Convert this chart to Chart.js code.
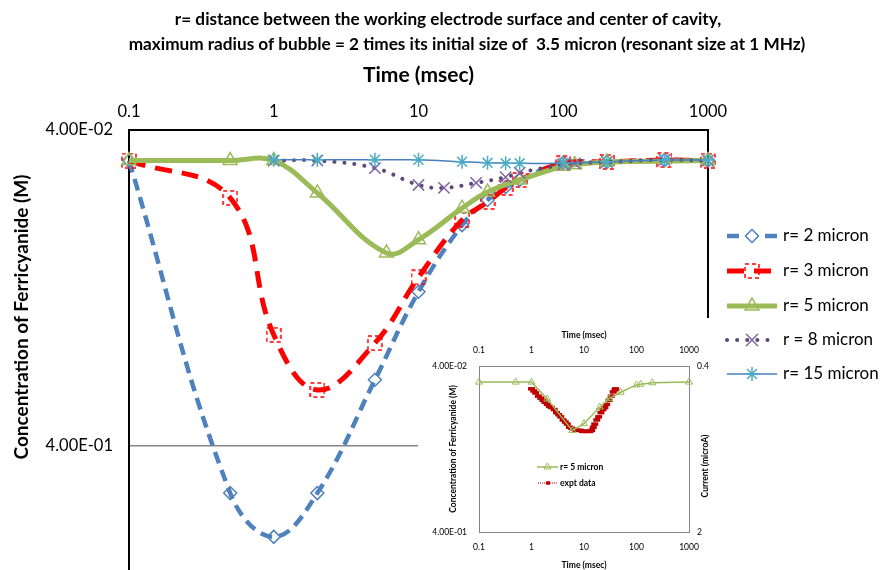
<!DOCTYPE html>
<html>
<head>
<meta charset="utf-8">
<script src="https://cdn.jsdelivr.net/npm/chart.js@4.4.1/dist/chart.umd.min.js"></script>
<style>
  html, body { margin: 0; padding: 0; background: #fff; overflow: hidden; }
  #wrap { position: relative; width: 882px; height: 570px; }
  #main { position: absolute; left: 0; top: 0; }
  #inset { position: absolute; left: 418px; top: 318px; background: #fff; }
</style>
</head>
<body>
<div id="wrap">
  <canvas id="main" width="882" height="570"></canvas>
  <canvas id="inset" width="302" height="252"></canvas>
</div>
<script>
// ---- data ----
const timeTicks = [0.1, 1, 10, 100, 1000];
const timeTickLabels = ['0.1', '1', '10', '100', '1000'];
const concTicks = [0.04, 0.4];
const concTickLabels = ['4.00E-02', '4.00E-01'];
const currentTicks = [0.4, 2];
const currentTickLabels = ['0.4', '2'];

const seriesNames = ['r= 2 micron', 'r= 3 micron', 'r= 5 micron', 'r = 8 micron', 'r= 15 micron'];

const t2 = [0.1, 0.5, 1, 2, 5, 10, 20, 30, 40, 50, 100, 200, 500, 1000];
const conc2 = [0.05, 0.564, 0.776, 0.564, 0.247, 0.130, 0.080, 0.0666, 0.0606, 0.0576, 0.0508, 0.0505, 0.0498, 0.05];

const t3 = [0.1, 0.5, 1, 2, 5, 10, 20, 30, 40, 50, 100, 200, 500, 1000];
const conc3 = [0.05, 0.0656, 0.178, 0.266, 0.189, 0.117, 0.077, 0.0676, 0.061, 0.0576, 0.051, 0.0505, 0.0498, 0.05];

const t5 = [0.1, 0.5, 1, 2, 6, 10, 20, 30, 50, 100, 120, 200, 1000];
const conc5 = [0.05, 0.05, 0.05, 0.0633, 0.098, 0.089, 0.0707, 0.0629, 0.0576, 0.052, 0.0515, 0.0505, 0.05];

const t8 = [1, 2, 5, 10, 15, 25, 40, 50, 100, 120, 200, 500, 1000];
const conc8 = [0.05, 0.05, 0.0528, 0.0597, 0.061, 0.0588, 0.0564, 0.0546, 0.0515, 0.051, 0.0505, 0.0497, 0.05];

const t15 = [1, 2, 5, 10, 20, 30, 40, 50, 100, 200, 500, 1000];
const conc15 = [0.0497, 0.0497, 0.0497, 0.0497, 0.0504, 0.0508, 0.051, 0.051, 0.051, 0.0504, 0.0498, 0.0498];

// experimental current (right axis of the inset)
const tExpt = [1.0, 1.1, 1.2, 1.35, 1.5, 1.65, 1.8, 2.0, 2.2, 2.4, 2.7, 3.0, 3.3, 3.6, 4.0, 4.4, 4.8, 5.3, 5.8, 6.4, 7.0, 7.7, 8.5, 9.3, 10, 11, 12, 13, 14, 15, 16, 17.5, 19, 21, 23, 25, 27, 30, 33, 36, 39, 40];
const currentExpt = [0.62, 0.64, 0.66, 0.69, 0.71, 0.73, 0.75, 0.77, 0.79, 0.80, 0.82, 0.85, 0.87, 0.89, 0.92, 0.94, 0.96, 0.99, 1.00, 1.01, 1.02, 1.02, 1.02, 1.03, 1.03, 1.03, 1.03, 1.03, 1.02, 0.99, 0.96, 0.92, 0.89, 0.85, 0.82, 0.80, 0.77, 0.73, 0.69, 0.65, 0.63, 0.62];

const titleLines = [
  'r= distance between the working electrode surface and center of cavity,',
  'maximum radius of bubble = 2 times its initial size of  3.5 micron (resonant size at 1 MHz)'
];

// ---- helpers ----
const FONT = 'Lato, "Open Sans", sans-serif';
Chart.defaults.font.family = FONT;
Chart.defaults.color = '#000';

const pts = (t, v) => t.map((x, i) => ({ x: x, y: v[i] }));
const setTicks = vals => scale => { scale.ticks = vals.map(v => ({ value: v })); };
const labelsFor = labels => (v, i) => labels[i];
// vertical axes: keep the plot area flush with the label boxes
const fixWidth = w => s => { s.width = w; s.paddingTop = 0; s.paddingBottom = 0; };

function dashedSquare(color, size) {
  const c = document.createElement('canvas');
  c.width = c.height = size;
  const g = c.getContext('2d');
  g.strokeStyle = color;
  g.lineWidth = 1.5;
  g.setLineDash([4, 3]);
  g.strokeRect(1, 1, size - 2, size - 2);
  return c;
}

function drawSample(ctx, ds, x0, x1, y, markerFill) {
  ctx.save();
  ctx.strokeStyle = ds.borderColor;
  ctx.lineWidth = ds.borderWidth;
  ctx.lineCap = ds.borderCapStyle || 'butt';
  ctx.setLineDash(ds.borderDash || []);
  ctx.beginPath();
  ctx.moveTo(x0, y);
  ctx.lineTo(x1, y);
  ctx.stroke();
  ctx.setLineDash([]);
  ctx.strokeStyle = ds.pointBorderColor;
  ctx.fillStyle = markerFill || 'rgba(0,0,0,0)';
  ctx.lineWidth = ds.pointBorderWidth;
  Chart.helpers.drawPoint(ctx, {
    pointStyle: ds.pointStyle, radius: ds.pointRadius,
    borderWidth: ds.pointBorderWidth, rotation: 0
  }, (x0 + x1) / 2, y);
  ctx.restore();
}

// ---- main chart ----
const mainDecor = {
  id: 'mainDecor',
  afterDraw(chart) {
    const ctx = chart.ctx;
    ctx.save();
    ctx.fillStyle = '#000';
    ctx.textAlign = 'center';
    ctx.textBaseline = 'middle';
    ctx.font = 'bold 17.2px ' + FONT;
    ctx.fillText(titleLines[0], 448, 19);
    ctx.fillText(titleLines[1], 467, 44);
    ctx.restore();

    const rows = [236, 271, 306, 340, 374];
    const fills = ['#fff', '#fff', null, null, null];
    chart.data.datasets.forEach((ds, i) => {
      drawSample(ctx, ds, 727, 777, rows[i], fills[i]);
      ctx.save();
      ctx.font = '17px ' + FONT;
      ctx.fillStyle = '#000';
      ctx.textBaseline = 'middle';
      ctx.fillText(ds.label, 783, rows[i]);
      ctx.restore();
    });

    ctx.save();
    ctx.translate(22, 317);
    ctx.rotate(-Math.PI / 2);
    ctx.font = 'bold 19px ' + FONT;
    ctx.fillStyle = '#000';
    ctx.textAlign = 'center';
    ctx.textBaseline = 'middle';
    ctx.fillText('Concentration of Ferricyanide (M)', 0, 0);
    ctx.restore();
  }
};

const colors2 = '#4F81BD', colors3 = '#FF0000', colors5 = '#9BBB59';

new Chart(document.getElementById('main'), {
  type: 'line',
  data: {
    datasets: [{
      label: seriesNames[0], data: pts(t2, conc2), order: 5,
      borderColor: colors2, borderWidth: 4.5, borderDash: [12, 7],
      pointStyle: 'rectRot', pointRadius: 6.5, pointBorderWidth: 1.5,
      pointBorderColor: colors2, pointBackgroundColor: 'rgba(0,0,0,0)'
    }, {
      label: seriesNames[1], data: pts(t3, conc3), order: 4,
      borderColor: colors3, borderWidth: 5, borderDash: [17, 10],
      pointStyle: dashedSquare(colors3, 16), pointRadius: 8, pointBorderWidth: 1.5,
      pointBorderColor: colors3, pointBackgroundColor: 'rgba(0,0,0,0)'
    }, {
      label: seriesNames[2], data: pts(t5, conc5), order: 3,
      borderColor: colors5, borderWidth: 5,
      pointStyle: 'triangle', pointRadius: 8, pointBorderWidth: 1.5,
      pointBorderColor: colors5, pointBackgroundColor: 'rgba(0,0,0,0)'
    }, {
      label: seriesNames[3], data: pts(t8, conc8), order: 2,
      borderColor: '#5F497A', borderWidth: 4, borderDash: [0.1, 10], borderCapStyle: 'round',
      pointStyle: 'crossRot', pointRadius: 8, pointBorderWidth: 1.5,
      pointBorderColor: '#8064A2', pointBackgroundColor: 'rgba(0,0,0,0)'
    }, {
      label: seriesNames[4], data: pts(t15, conc15), order: 1,
      borderColor: '#4A7EBB', borderWidth: 1.5,
      pointStyle: 'star', pointRadius: 7, pointBorderWidth: 1.5,
      pointBorderColor: '#4BACC6', pointBackgroundColor: 'rgba(0,0,0,0)'
    }].map(ds => Object.assign(ds, { tension: 0.4, clip: false, fill: false }))
  },
  options: {
    responsive: false,
    animation: false,
    layout: { padding: { top: 60 }, autoPadding: false },
    plugins: {
      legend: { display: false },
      tooltip: { enabled: false },
      title: { display: false }
    },
    scales: {
      x: {
        type: 'logarithmic', position: 'top', min: 0.1, max: 1000,
        afterBuildTicks: setTicks(timeTicks),
        ticks: { callback: labelsFor(timeTickLabels), font: { size: 16.5 }, padding: 8, maxRotation: 0, autoSkip: false },
        grid: { display: false, drawTicks: false },
        border: { color: '#000', width: 2 },
        title: { display: true, text: 'Time (msec)', font: { size: 21, weight: 'bold' }, padding: { top: 2.5, bottom: 0 } },
        afterFit: s => { s.height = 70; }
      },
      y: {
        type: 'logarithmic', position: 'left', reverse: true, min: 0.04, max: 0.988,
        afterBuildTicks: setTicks(concTicks),
        ticks: { callback: labelsFor(concTickLabels), font: { size: 16.5 }, padding: 16, autoSkip: false },
        grid: {
          drawTicks: false, lineWidth: 1.5,
          color: c => (c.tick && Math.abs(c.tick.value - 0.4) < 1e-6) ? '#868686' : 'rgba(0,0,0,0)'
        },
        border: { color: '#000', width: 2 },
        afterFit: fixWidth(129)
      },
      yr: {
        type: 'linear', position: 'right', min: 0, max: 1,
        ticks: { display: false },
        grid: { display: false, drawTicks: false },
        border: { color: '#000', width: 2 },
        afterFit: fixWidth(174)
      }
    }
  },
  plugins: [mainDecor]
});

// ---- inset chart ----
const insetDecor = {
  id: 'insetDecor',
  afterDraw(chart) {
    const ctx = chart.ctx;
    const [sim, expt] = chart.data.datasets;
    drawSample(ctx, sim, 119, 140, 149, null);
    drawSample(ctx, Object.assign({}, expt, { pointRadius: 2 }), 120, 140, 165, null);
    ctx.save();
    ctx.font = 'bold 8.5px ' + FONT;
    ctx.fillStyle = '#000';
    ctx.textBaseline = 'middle';
    ctx.fillText(sim.label, 142, 149);
    ctx.fillText(expt.label, 142, 165);
    ctx.translate(287, 148);
    ctx.rotate(-Math.PI / 2);
    ctx.textAlign = 'center';
    ctx.fillText('Current (microA)', 0, 0);
    ctx.restore();
  }
};

const insetTime = (pos, h, tpad, lpad) => ({
  type: 'logarithmic', position: pos, min: 0.1, max: 1000,
  afterBuildTicks: setTicks(timeTicks),
  ticks: { callback: labelsFor(timeTickLabels), font: { size: 8.5 }, padding: lpad, maxRotation: 0, autoSkip: false },
  grid: { display: false, drawTicks: false },
  border: { color: '#868686', width: 1 },
  title: { display: true, text: 'Time (msec)', font: { size: 8.5, weight: 'bold' }, padding: tpad },
  afterFit: s => { s.height = h; }
});

new Chart(document.getElementById('inset'), {
  type: 'line',
  data: {
    datasets: [{
      label: 'r= 5 micron', data: pts(t5, conc5), xAxisID: 'x', yAxisID: 'y',
      borderColor: colors5, borderWidth: 1.5, tension: 0, clip: false,
      pointStyle: 'triangle', pointRadius: 4, pointBorderWidth: 1,
      pointBorderColor: colors5, pointBackgroundColor: 'rgba(0,0,0,0)'
    }, {
      label: 'expt data', data: pts(tExpt, currentExpt), xAxisID: 'x', yAxisID: 'y2',
      borderColor: '#C00000', borderWidth: 1, borderDash: [1, 1], tension: 0,
      pointStyle: 'line', pointRadius: 3.5, pointBorderWidth: 3.5,
      pointBorderColor: '#C00000', pointBackgroundColor: '#C00000'
    }]
  },
  options: {
    responsive: false,
    animation: false,
    layout: { padding: 0, autoPadding: false },
    plugins: { legend: { display: false }, tooltip: { enabled: false } },
    scales: {
      x: insetTime('bottom', 38, { top: 0, bottom: 0 }, 10),
      x2: insetTime('top', 48, { top: 12, bottom: 0 }, 11),
      y: {
        type: 'logarithmic', position: 'left', reverse: true, min: 0.04, max: 0.4,
        afterBuildTicks: setTicks(concTicks),
        ticks: { callback: labelsFor(concTickLabels), font: { size: 8.5 }, padding: 12, autoSkip: false },
        grid: { display: false, drawTicks: false },
        border: { color: '#868686', width: 1 },
        title: { display: true, text: 'Concentration of Ferricyanide (M)', font: { size: 8.5, weight: 'bold' }, padding: { top: 30, bottom: 0 } },
        afterFit: fixWidth(61)
      },
      y2: {
        type: 'linear', position: 'right', reverse: true, min: 0.4, max: 2,
        afterBuildTicks: setTicks(currentTicks),
        ticks: { callback: labelsFor(currentTickLabels), font: { size: 8.5 }, padding: 8, autoSkip: false },
        grid: { display: false, drawTicks: false },
        border: { color: '#868686', width: 1 },
        afterFit: fixWidth(31)
      }
    }
  },
  plugins: [insetDecor]
});
</script>
</body>
</html>
